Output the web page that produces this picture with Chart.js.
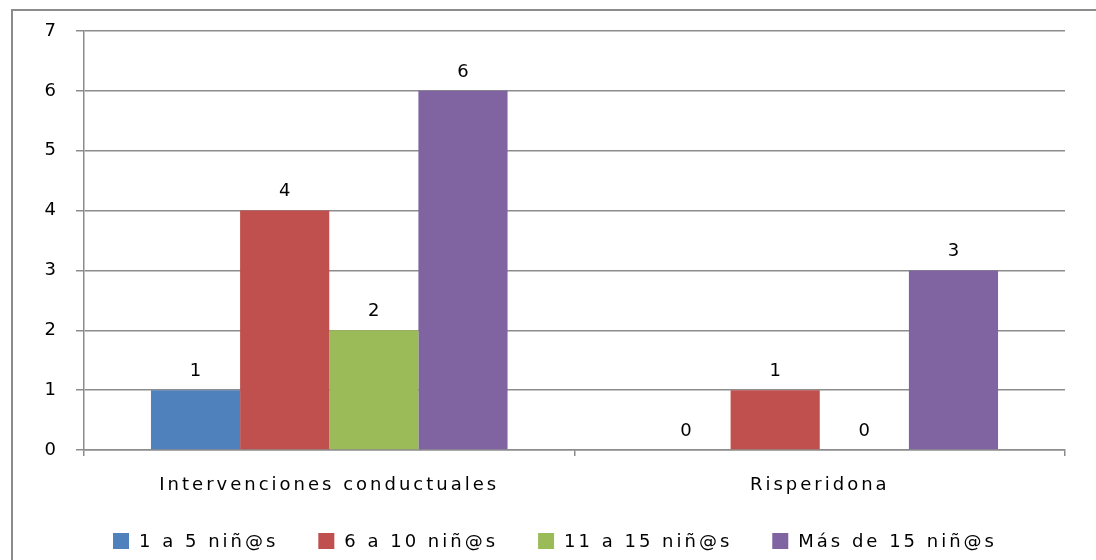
<!DOCTYPE html>
<html>
<head>
<meta charset="utf-8">
<title>Intervenciones por grupo</title>
<script src="https://cdn.jsdelivr.net/npm/chart.js@4.4.1/dist/chart.umd.min.js"></script>
<style>
    html, body { margin: 0; padding: 0; background: #fff; overflow: hidden; }
    #frame { position: absolute; left: 11px; top: 9px; width: 1200px; height: 700px; border: 2px solid #8c8c8c; }
    #wrap { position: absolute; left: 0; top: 0; width: 1096px; height: 560px; }
</style>
</head>
<body>
<div id="frame"></div>
<div id="wrap"><canvas id="canvas" width="1096" height="560"></canvas></div>

<script>
// categories and series
var categories = ["Intervenciones conductuales", "Risperidona"];
var seriesNames = ["1 a 5 niñ@s", "6 a 10 niñ@s", "11 a 15 niñ@s", "Más de 15 niñ@s"];
var seriesColors = ["#4F81BD", "#C0504D", "#9BBB59", "#8064A2"];
var grupo1a5 = [1, 0];
var grupo6a10 = [4, 1];
var grupo11a15 = [2, 0];
var grupoMas15 = [6, 3];
var yTicks = [0, 1, 2, 3, 4, 5, 6, 7];

var FONT = "'DejaVu Sans', sans-serif";
var FSIZE = 18;
var SPACING = "3px";

var allValues = [grupo1a5, grupo6a10, grupo11a15, grupoMas15];
var datasets = allValues.map(function(vals, i){
    return {
        label: seriesNames[i],
        data: vals,
        backgroundColor: seriesColors[i],
        borderWidth: 0
    };
});

// letter spacing has to be set again after every canvas resize
var spacingPlugin = {
    id: 'spacing',
    beforeLayout: function(chart){ chart.ctx.letterSpacing = SPACING; },
    beforeDraw: function(chart){ chart.ctx.letterSpacing = SPACING; }
};

// numbers over the bars
var valueLabels = {
    id: 'valueLabels',
    afterDatasetsDraw: function(chart){
        var ctx = chart.ctx;
        ctx.save();
        ctx.letterSpacing = SPACING;
        ctx.font = FSIZE + "px " + FONT;
        ctx.fillStyle = "#000";
        ctx.textAlign = "center";
        ctx.textBaseline = "middle";
        chart.data.datasets.forEach(function(ds, i){
            chart.getDatasetMeta(i).data.forEach(function(bar, j){
                ctx.fillText(String(ds.data[j]), bar.x + 1.5, bar.y - 19);
            });
        });
        ctx.restore();
    }
};

// legend row under the axis
var bottomLegend = {
    id: 'bottomLegend',
    afterDraw: function(chart){
        var ctx = chart.ctx;
        ctx.save();
        ctx.letterSpacing = SPACING;
        ctx.font = FSIZE + "px " + FONT;
        ctx.textBaseline = "middle";
        ctx.textAlign = "left";
        var box = 16, gapText = 10, gapItem = 40;
        var widths = chart.data.datasets.map(function(ds){
            return box + gapText + ctx.measureText(ds.label).width;
        });
        var total = widths.reduce(function(a, b){ return a + b; }, 0) + gapItem * (widths.length - 1);
        var x = 555 - total / 2;
        var y = 541;
        chart.data.datasets.forEach(function(ds, i){
            ctx.fillStyle = ds.backgroundColor;
            ctx.fillRect(x, y - box / 2, box, box);
            ctx.fillStyle = "#000";
            ctx.fillText(ds.label, x + box + gapText, y + 1);
            x += widths[i] + gapItem;
        });
        ctx.restore();
    }
};

var options = {
    animation: false,
    responsive: false,
    layout: { padding: { left: 0, top: 31, right: 31, bottom: 0 } },
    datasets: { bar: { categoryPercentage: 0.727, barPercentage: 1.0 } },
    plugins: {
        legend: { display: false },
        tooltip: { enabled: false }
    },
    scales: {
        x: {
            offset: true,
            afterFit: function(scale){ scale.height = 110; },
            grid: {
                display: true,
                offset: true,
                drawOnChartArea: false,
                drawTicks: true,
                tickLength: 6,
                color: "#8c8c8c",
                lineWidth: 1.5
            },
            border: { display: true, color: "#8c8c8c", width: 1.5 },
            ticks: {
                padding: 19,
                color: "#000",
                font: { family: FONT, size: FSIZE },
                maxRotation: 0
            }
        },
        y: {
            min: yTicks[0],
            max: yTicks[yTicks.length - 1],
            afterFit: function(scale){ scale.width = 84; },
            afterBuildTicks: function(scale){
                scale.ticks = yTicks.map(function(v){ return { value: v }; });
            },
            grid: {
                color: "#8c8c8c",
                lineWidth: 1.5,
                tickLength: 8
            },
            border: { display: true, color: "#8c8c8c", width: 1.5 },
            ticks: {
                padding: 17,
                color: "#000",
                font: { family: FONT, size: FSIZE }
            }
        }
    }
};

window.onload = function(){
    var ctx = document.getElementById("canvas").getContext("2d");
    window.myBarChart = new Chart(ctx, {
        type: 'bar',
        data: { labels: categories, datasets: datasets },
        options: options,
        plugins: [spacingPlugin, valueLabels, bottomLegend]
    });
};
</script>
</body>
</html>
